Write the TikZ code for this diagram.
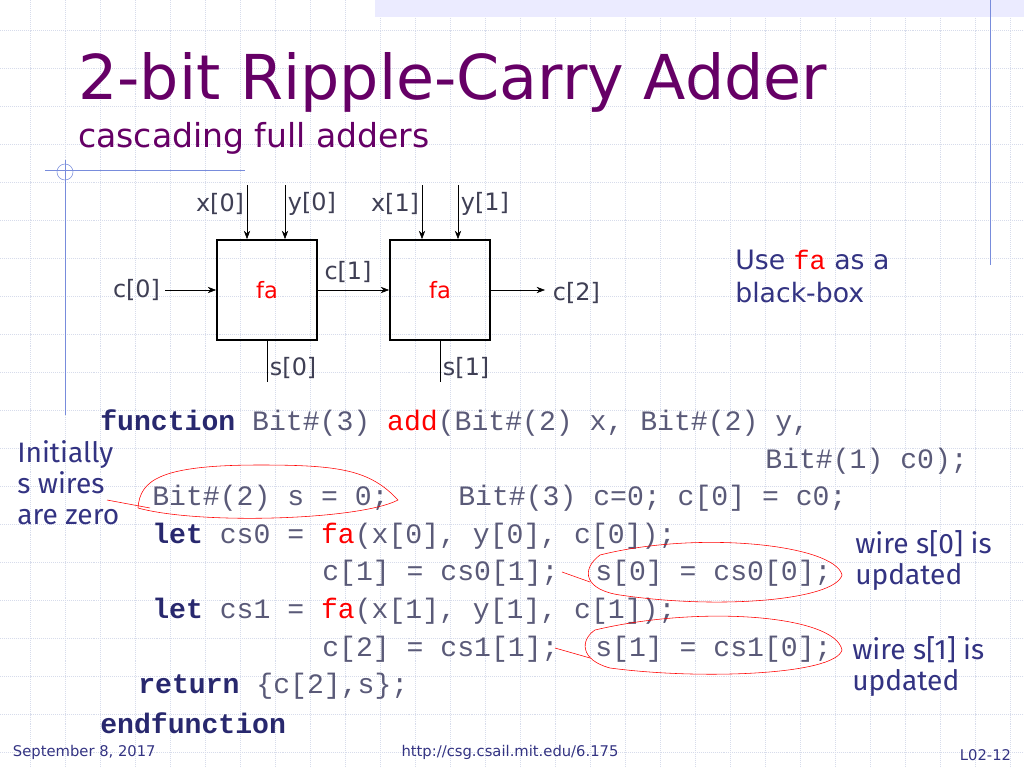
\documentclass[tikz,border=0pt]{standalone}
\usepackage{fontspec}
\setmainfont{DejaVu Sans}
\newfontfamily\codefont{Liberation Mono}
\newfontfamily\handfont{Fira Sans}
\usetikzlibrary{positioning,arrows.meta}
\definecolor{titlecol}{RGB}{102,0,102}
\definecolor{notecol}{RGB}{51,51,130}
\definecolor{codecol}{RGB}{90,90,120}
\definecolor{kwcol}{RGB}{40,40,110}
\definecolor{gridcol}{RGB}{215,220,235}
\definecolor{rulecol}{RGB}{120,140,220}
\tikzset{
  fabox/.style={draw,very thick,minimum width=2.5cm,minimum height=2.5cm,text=red,font=\fontsize{16}{18}\selectfont},
  wire/.style={-{Stealth[length=6pt]},thin},
  sig/.style={font=\fontsize{17}{20}\selectfont,text=codecol!70!black},
  code/.style={anchor=west,inner sep=0pt,font=\codefont\fontsize{20}{22}\selectfont,text=codecol},
  hand/.style={align=left,inner sep=0pt,font=\handfont\fontsize{20}{22}\selectfont,text=notecol},
  circ/.style={red,thin}
}
\newcommand{\kw}[1]{\textbf{\color{kwcol}#1}}
\newcommand{\rd}[1]{\textcolor{red}{#1}}
\begin{document}
\begin{tikzpicture}[x=0.025cm,y=-0.025cm]
\useasboundingbox (0,0) rectangle (1024,768);
% background
\foreach \gx in {30,65,...,1024} \draw[gridcol,densely dotted] (\gx,0) -- (\gx,768);
\foreach \gy in {30,68,...,768} \draw[gridcol,densely dotted] (0,\gy) -- (1024,\gy);
\fill[blue!8] (375,0) rectangle (1024,17);
\draw[rulecol] (990,0) -- (990,265);
\draw[rulecol] (45,170) -- (245,170);
\draw[rulecol] (65,160) -- (65,415);
\draw[rulecol] (65,172) circle (8);
% title
\node[anchor=west,text=titlecol,font=\fontsize{44}{48}\selectfont,inner sep=0pt] (title) at (78,82) {2-bit Ripple-Carry Adder};
\node[anchor=west,text=titlecol,font=\fontsize{23.5}{26}\selectfont,inner sep=0pt] (subtitle) at (78,138) {cascading full adders};
% adders
\node[fabox] (fa0) at (267,290) {fa};
\node[fabox] (fa1) at (440,290) {fa};
\coordinate (x0) at (247,185); \coordinate (y0) at (285,185);
\coordinate (x1) at (422,185); \coordinate (y1) at (458,185);
\draw[wire] (x0) -- (x0 |- fa0.north);
\draw[wire] (y0) -- (y0 |- fa0.north);
\draw[wire] (x1) -- (x1 |- fa1.north);
\draw[wire] (y1) -- (y1 |- fa1.north);
\node[sig,anchor=east] at (249,204) {x[0]};
\node[sig,anchor=west] at (283,204) {y[0]};
\node[sig,anchor=east] at (424,204) {x[1]};
\node[sig,anchor=west] at (456,204) {y[1]};
\coordinate (cin) at (165,290);
\coordinate (cout) at (545,290);
\draw[wire] (cin) -- (fa0.west);
\draw[wire] (fa0.east) -- (fa1.west);
\draw[wire] (fa1.east) -- (cout);
\node[sig,anchor=east] at (cin) {c[0]};
\node[sig] at (348,272) {c[1]};
\node[sig,anchor=west] at (548,293) {c[2]};
\coordinate (s0) at (267,382); \coordinate (s1) at (440,382);
\draw (fa0.south) -- (s0);
\draw (fa1.south) -- (s1);
\node[sig,anchor=west] at (265,368) {s[0]};
\node[sig,anchor=west] at (438,368) {s[1]};
\node[hand,anchor=north west,font=\fontsize{19}{23}\selectfont,text=notecol] (usefa) at (735,250) {Use {\codefont\rd{fa}} as a\\black-box};
% code
\node[code] (l1) at (100,423) {\kw{function} Bit\#(3) \rd{add}(Bit\#(2) x, Bit\#(2) y,};
\node[code] (l2) at (765,461) {Bit\#(1) c0);};
\node[code] (l3) at (152,498) {Bit\#(2) s = 0;};
\node[code] (l3b) at (458,498) {Bit\#(3) c=0; c[0] = c0;};
\node[code] (l4) at (152,536) {\kw{let} cs0 = \rd{fa}(x[0], y[0], c[0]);};
\node[code] (l5) at (322,573) {c[1] = cs0[1];};
\node[code] (l5b) at (595,573) {s[0] = cs0[0];};
\node[code] (l6) at (152,611) {\kw{let} cs1 = \rd{fa}(x[1], y[1], c[1]);};
\node[code] (l7) at (322,649) {c[2] = cs1[1];};
\node[code] (l7b) at (595,649) {s[1] = cs1[0];};
\node[code] (l8) at (138,686) {\kw{return} \{c[2],s\};};
\node[code] (l9) at (100,723) {\kw{endfunction}};
% notes
\node[hand,anchor=north west] (n1) at (17,440) {Initially\\s wires\\are zero};
\node[hand,anchor=north west] (n2) at (855,530) {wire s[0] is\\updated};
\node[hand,anchor=north west] (n3) at (852,636) {wire s[1] is\\updated};
% red marks
\draw[circ] (138,508) .. controls (140,480) and (160,465) .. (260,465)
  .. controls (340,465) and (370,470) .. (398,500)
  .. controls (360,520) and (200,525) .. (138,508);
\draw[circ] (107,500) -- (150,508);
\draw[circ] (600,555) .. controls (700,530) and (835,545) .. (842,575)
  .. controls (835,600) and (720,610) .. (620,595)
  .. controls (585,590) and (580,570) .. (600,555);
\draw[circ] (562,572) -- (590,582);
\draw[circ] (595,630) .. controls (700,605) and (835,615) .. (842,650)
  .. controls (835,675) and (700,680) .. (610,668)
  .. controls (580,660) and (580,640) .. (595,630);
\draw[circ] (555,648) -- (590,658);
% footer
\node[anchor=west,text=notecol,font=\fontsize{10.5}{13}\selectfont] (date) at (8,752) {September 8, 2017};
\node[text=notecol,font=\fontsize{10.5}{13}\selectfont] (url) at (510,752) {http://csg.csail.mit.edu/6.175};
\node[anchor=east,text=notecol,font=\fontsize{10.5}{13}\selectfont] (page) at (1016,755) {L02-12};
\end{tikzpicture}
\end{document}
